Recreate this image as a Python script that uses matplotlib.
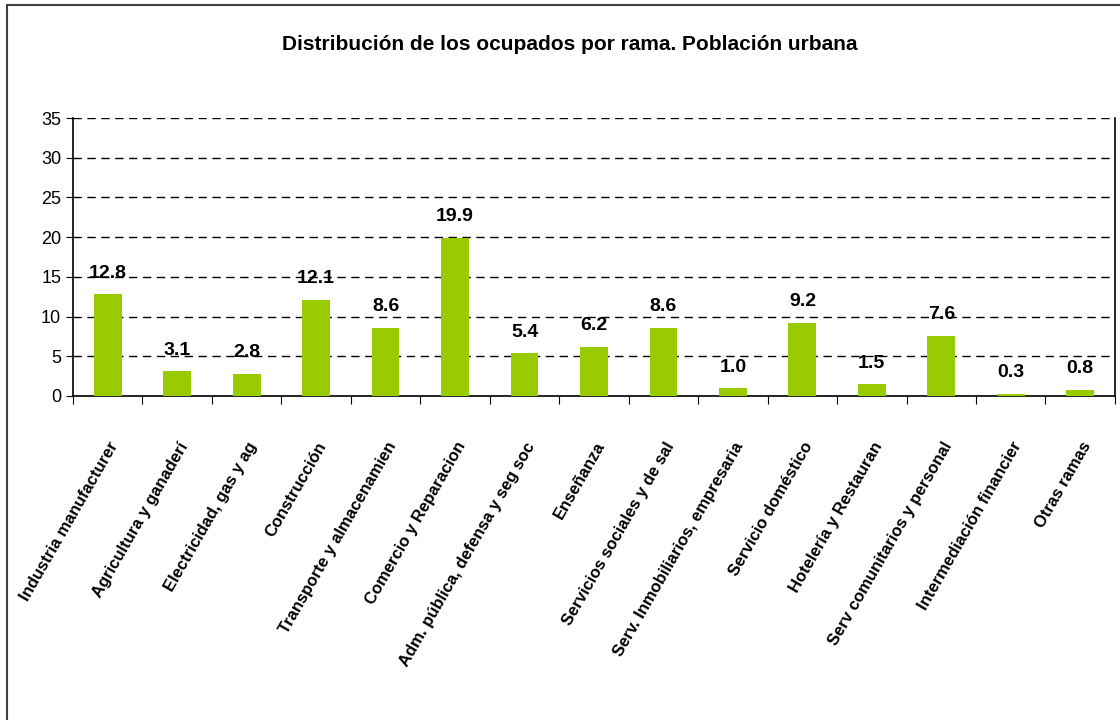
import numpy as np
import matplotlib
matplotlib.use('Agg')
import matplotlib.pyplot as plt
from matplotlib.patches import Rectangle

# data
ramas = ['Industria manufacturer', 'Agricultura y ganaderí', 'Electricidad, gas y ag',
         'Construcción', 'Transporte y almacenamien', 'Comercio y Reparacion',
         'Adm. pública, defensa y seg soc', 'Enseñanza', 'Servicios sociales y de sal',
         'Serv. Inmobiliarios, empresaria', 'Servicio doméstico', 'Hotelería y Restauran',
         'Serv comunitarios y personal', 'Intermediación financier', 'Otras ramas']
valores = [12.8, 3.1, 2.8, 12.1, 8.6, 19.9, 5.4, 6.2, 8.6, 1.0, 9.2, 1.5, 7.6, 0.3, 0.8]
yticks = [0, 5, 10, 15, 20, 25, 30, 35]
titulo = 'Distribución de los ocupados por rama. Población urbana'

plt.rcParams['font.family'] = ['Liberation Sans', 'DejaVu Sans']

fig = plt.figure(figsize=(11.2, 7.2), dpi=100)
ax = fig.add_axes([0.0652, 0.45, 0.9303, 0.3861])

# outer frame
fig.patches.append(Rectangle((7/1120, -0.05), 1.1, 1 - 5/720 + 0.05, transform=fig.transFigure,
                             fill=False, edgecolor='#404040', linewidth=1.5))

x = np.arange(len(ramas))
bars = ax.bar(x, valores, width=0.4, color='#99CC00', zorder=3)

for xi, v in zip(x, valores):
    ax.annotate('%.1f' % v, (xi, v), xytext=(0, 9), textcoords='offset points',
                ha='center', va='bottom', fontsize=14, fontweight='bold')

ax.set_xlim(-0.5, len(ramas) - 0.5)
ax.set_ylim(0, 35)
ax.set_yticks(yticks)
ax.set_yticklabels([str(t) for t in yticks], fontsize=13)
ax.yaxis.grid(True, linestyle=(0, (6, 4)), color='black', linewidth=1, zorder=0)

# ticks between categories
ax.set_xticks(np.arange(len(ramas) + 1) - 0.5)
ax.set_xticklabels([])
ax.tick_params(axis='x', direction='out', length=6, color='black')
ax.tick_params(axis='y', direction='out', length=5, color='black')
for xi, lab in zip(x, ramas):
    ax.annotate(lab, (xi, 0), xytext=(5, -34), textcoords='offset points',
                rotation=60, rotation_mode='anchor', ha='right', va='center',
                fontsize=12, fontweight='bold', annotation_clip=False)

ax.spines['top'].set_visible(False)
for s in ['left', 'bottom', 'right']:
    ax.spines[s].set_color('black')
    ax.spines[s].set_linewidth(1.2)

fig.text(0.509, 0.9375, titulo, ha='center', va='center', fontsize=15, fontweight='bold')

fig.savefig('out.png', dpi=100)
